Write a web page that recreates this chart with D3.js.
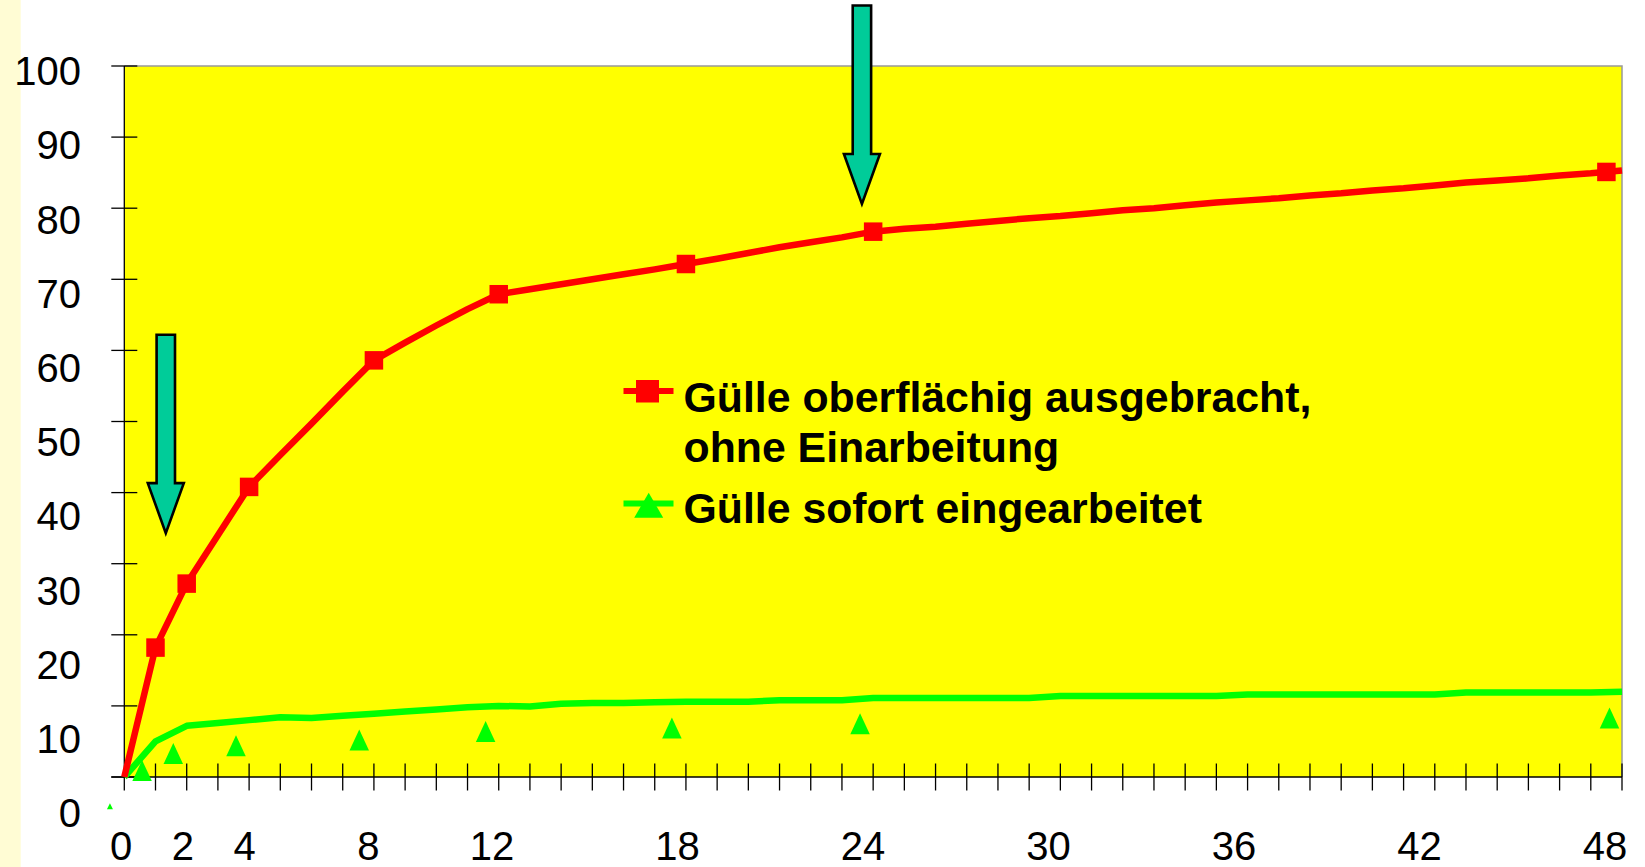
<!DOCTYPE html>
<html><head><meta charset="utf-8">
<script src="https://cdn.jsdelivr.net/npm/d3@7"></script>
<style>html,body{margin:0;padding:0;background:#fff;overflow:hidden}</style>
</head><body>
<svg id="c" width="1645" height="867"></svg>
<script>
// ---- data ----
const hours = d3.range(0, 49);
const redValues = [0,18.2,27.2,34.0,40.8,45.3,49.7,54.2,58.6,61.1,63.5,65.8,67.9,68.6,69.3,70.0,70.7,71.4,72.15,72.9,73.7,74.5,75.2,75.9,76.7,77.1,77.4,77.8,78.2,78.6,78.9,79.3,79.7,80.0,80.4,80.8,81.1,81.4,81.8,82.1,82.5,82.8,83.2,83.6,83.9,84.2,84.6,84.9,85.3];
const greenValues = [0,5.0,7.2,7.6,8.0,8.4,8.3,8.6,8.9,9.2,9.5,9.8,10.0,9.9,10.3,10.4,10.4,10.5,10.6,10.6,10.6,10.8,10.8,10.8,11.1,11.1,11.1,11.1,11.1,11.1,11.4,11.4,11.4,11.4,11.4,11.4,11.6,11.6,11.6,11.6,11.6,11.6,11.6,11.9,11.9,11.9,11.9,11.9,12.0];
const redMarkerHours = [1,2,4,8,12,18,24,47.5];
const redMarkerValues = [18.2,27.2,40.8,58.6,67.9,72.15,76.7,85.1];
const greenMarkerHours = [0.57,1.57,3.58,7.53,11.58,17.55,23.58,47.6];
const greenMarkerValues = [0.9,3.3,4.4,5.2,6.4,6.9,7.5,8.3];
const xTickLabels = [0,2,4,8,12,18,24,30,36,42,48];
const yTickLabels = [0,10,20,30,40,50,60,70,80,90,100];
const legendLabels = [["Gülle oberflächig ausgebracht,", "ohne Einarbeitung"], ["Gülle sofort eingearbeitet"]];
const arrowHours = [1.33, 23.64];
const arrowTopValues = [62.2, 108.5];
const arrowTipValues = [34.3, 80.6];

// ---- layout ----
const svg = d3.select("#c");
const L = 124.3, R = 1622, T = 66, B = 777;
const x = d3.scaleLinear([0, 48], [L, R]);
const y = d3.scaleLinear([0, 100], [B, T]);
const xLab = d3.scaleLinear([0, 48], [121, 1605]);
const yLab = d3.scaleLinear([0, 100], [813, 70.8]);
const font = "'Liberation Sans', Arial, Helvetica, sans-serif";

svg.append("rect").attr("x", 0).attr("y", 0).attr("width", 1645).attr("height", 867).attr("fill", "#fff");
svg.append("rect").attr("x", 0).attr("y", 0).attr("width", 20.7).attr("height", 867).attr("fill", "#FFFCD4");

// plot area
svg.append("rect").attr("x", L).attr("y", T).attr("width", R - L).attr("height", B - T).attr("fill", "#FFFF00");
svg.append("path").attr("d", `M${L},${T}H${R}V${B}`).attr("fill", "none").attr("stroke", "#999").attr("stroke-width", 1.5);

// axes
const ax = svg.append("g").attr("stroke", "#000").attr("stroke-width", 1.3);
ax.append("line").attr("x1", L).attr("x2", L).attr("y1", T).attr("y2", B + 13.5);
ax.append("line").attr("x1", L - 13).attr("x2", R).attr("y1", B).attr("y2", B);
y.ticks(10).forEach(v => ax.append("line").attr("x1", L - 13).attr("x2", L + 13).attr("y1", y(v)).attr("y2", y(v)));
d3.range(1, 49).forEach(h => ax.append("line").attr("x1", x(h)).attr("x2", x(h)).attr("y1", B - 13.5).attr("y2", B + 13.5));

// tick labels
svg.append("g").selectAll("text").data(yTickLabels).join("text")
  .attr("x", 81).attr("y", d => yLab(d) + 14.3).attr("text-anchor", "end")
  .attr("font-family", font).attr("font-size", 40).attr("fill", "#000").text(d => d);
svg.append("g").selectAll("text").data(xTickLabels).join("text")
  .attr("x", d => xLab(d)).attr("y", 860).attr("text-anchor", "middle")
  .attr("font-family", font).attr("font-size", 40).attr("fill", "#000").text(d => d);

// lines
const line = d3.line().x((d, i) => x(hours[i])).y(d => y(d));
svg.append("path").datum(greenValues).attr("d", line).attr("fill", "none").attr("stroke", "#00FF00").attr("stroke-width", 6.5).attr("stroke-linejoin", "round");
svg.append("path").datum(redValues).attr("d", line).attr("fill", "none").attr("stroke", "#FF0000").attr("stroke-width", 6.5).attr("stroke-linejoin", "round");

// markers
const sq = 18.5;
svg.append("g").selectAll("rect").data(redMarkerHours).join("rect")
  .attr("x", d => x(d) - sq / 2).attr("y", (d, i) => y(redMarkerValues[i]) - sq / 2)
  .attr("width", sq).attr("height", sq).attr("fill", "#FF0000");
const tri = (cx, cy, w, h) => `M${cx},${cy - h / 2}L${cx + w / 2},${cy + h / 2}L${cx - w / 2},${cy + h / 2}Z`;
svg.append("g").selectAll("path").data(greenMarkerHours).join("path")
  .attr("d", (d, i) => tri(x(d), y(greenMarkerValues[i]), 19.5, 21)).attr("fill", "#00FF00");
// small stray marker below axis
svg.append("path").attr("d", tri(x(-0.46), y(-4.1), 6, 6)).attr("fill", "#00FF00");

// arrows
const arrowPath = (cx, top, tip) => {
  const sw = 9.2, hw = 18, hh = 50, hb = tip - hh;
  return `M${cx - sw},${top}H${cx + sw}V${hb}H${cx + hw}L${cx},${tip}L${cx - hw},${hb}H${cx - sw}Z`;
};
svg.append("g").selectAll("path").data(arrowHours).join("path")
  .attr("d", (d, i) => arrowPath(x(d), y(arrowTopValues[i]), y(arrowTipValues[i])))
  .attr("fill", "#00CC99").attr("stroke", "#000").attr("stroke-width", 2.6).attr("stroke-linejoin", "miter");

// legend
const lg = svg.append("g");
lg.append("line").attr("x1", 623.5).attr("x2", 673.5).attr("y1", 391).attr("y2", 391).attr("stroke", "#FF0000").attr("stroke-width", 6);
lg.append("rect").attr("x", 636).attr("y", 380).attr("width", 23).attr("height", 22.5).attr("fill", "#FF0000");
lg.append("line").attr("x1", 623.5).attr("x2", 673.5).attr("y1", 503.5).attr("y2", 503.5).attr("stroke", "#00FF00").attr("stroke-width", 6);
lg.append("path").attr("d", tri(648.7, 505.2, 29, 25)).attr("fill", "#00FF00");
const lt = lg.append("g").attr("font-family", font).attr("font-size", 42.8).attr("font-weight", "bold").attr("fill", "#000");
lt.append("text").attr("x", 683.5).attr("y", 412).text(legendLabels[0][0]);
lt.append("text").attr("x", 683.5).attr("y", 462).text(legendLabels[0][1]);
lt.append("text").attr("x", 683.5).attr("y", 523).text(legendLabels[1][0]);
</script>
</body></html>
